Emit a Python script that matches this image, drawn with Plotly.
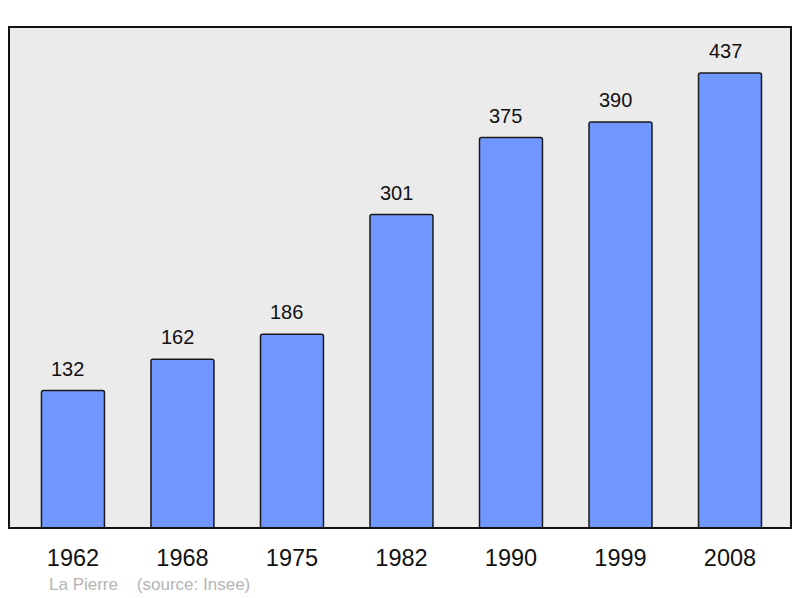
import plotly.graph_objects as go

years = ["1962", "1968", "1975", "1982", "1990", "1999", "2008"]
population = [132, 162, 186, 301, 375, 390, 437]
town = "La Pierre"
source = "(source: Insee)"

fig = go.Figure()
fig.add_trace(go.Bar(
    x=years, y=population,
    marker=dict(color="#7096ff", line=dict(color="#1a1a1a", width=1.5), cornerradius=2),
    width=0.575,
    hoverinfo="skip",
))

for i, v in enumerate(population):
    fig.add_annotation(x=i, y=v, text=str(v), showarrow=False, yshift=22, xshift=-5,
                       font=dict(size=20, color="#111111"), yanchor="middle")

fig.add_annotation(xref="paper", yref="paper", x=0.048, y=-0.112, xanchor="left", yanchor="middle",
                   text=town + "&nbsp;&nbsp;&nbsp;&nbsp;" + source, showarrow=False,
                   font=dict(size=17, color="#b4b4b4"))

fig.add_shape(type="rect", xref="paper", yref="paper", x0=0, y0=0, x1=1, y1=1,
              line=dict(color="#111111", width=2), layer="above")

fig.update_layout(
    width=792, height=590,
    margin=dict(l=1, r=9, t=19, b=70),
    paper_bgcolor="white", plot_bgcolor="#ebebeb",
    font=dict(family="Liberation Sans, Arial, sans-serif"),
    showlegend=False,
    xaxis=dict(type="category", range=[-0.584, 6.557], showgrid=False, zeroline=False,
               ticks="outside", ticklen=9, tickcolor="rgba(0,0,0,0)",
               tickfont=dict(size=23.5, color="#111111")),
    yaxis=dict(range=[0, 481.2], showgrid=False, zeroline=False, showticklabels=False),
)

fig.write_html("out.html")
